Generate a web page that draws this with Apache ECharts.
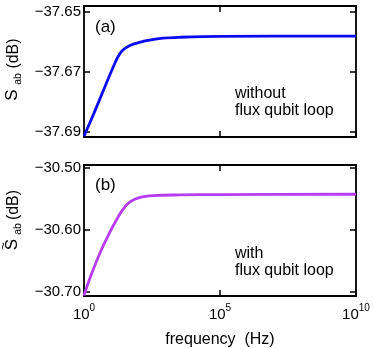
<!DOCTYPE html>
<html>
<head>
<meta charset="utf-8">
<script src="https://cdn.jsdelivr.net/npm/echarts@6/dist/echarts.min.js"></script>
<style>
html,body{margin:0;padding:0;background:#fff;}
#chart{width:374px;height:348px;}
</style>
</head>
<body>
<div id="chart"></div>
<script>
// ---- data ----
const freqA = [1, 2.2, 5.1, 10.5, 14, 18, 24, 32, 45, 65, 100, 200, 800, 3400, 1e5, 1e10];
const valA = [-37.6915, -37.6844, -37.6764, -37.6696, -37.6670, -37.6650, -37.6633, -37.6623,
              -37.6615, -37.6609, -37.6604, -37.6597, -37.6589, -37.6586, -37.6583, -37.6582];
const freqB = [1, 1.66, 3.87, 9.04, 15.9, 27.9, 49.1, 114.5, 353, 3380, 1e5, 1e10];
const valB = [-30.7060, -30.6774, -30.6371, -30.6032, -30.5831, -30.5661, -30.5548, -30.5473,
              -30.5445, -30.5435, -30.5429, -30.5424];
const xTicks = [1, 1e5, 1e10];
const yTicksA = [-37.69, -37.67, -37.65];
const yTicksB = [-30.70, -30.60, -30.50];
const yRangeA = [-37.6918, -37.6482];
const yRangeB = [-30.7065, -30.4952];
const panelLabels = ['(a)', '(b)'];
const noteA = ['without', 'flux qubit loop'];
const noteB = ['with', 'flux qubit loop'];
const xName = 'frequency  (Hz)';

const FONT = '"Liberation Sans", Arial, Helvetica, sans-serif';
const lineStyle = {color: '#000', width: 1.8};
const tickStyle = {color: '#000', width: 1.5};

function xAxis(grid, pos, showLabel) {
  return {
    type: 'log', logBase: 10, gridIndex: grid, position: pos, min: 1, max: 1e10,
    axisLine: {show: true, lineStyle: lineStyle},
    axisTick: {show: true, inside: true, length: 6, lineStyle: tickStyle, customValues: xTicks},
    minorTick: {show: false}, splitLine: {show: false},
    axisLabel: {
      show: showLabel, customValues: xTicks, margin: 7, color: '#000', fontFamily: FONT,
      formatter: v => '{b|10}{sup|' + Math.round(Math.log10(v)) + '}',
      rich: {
        b: {fontSize: 15, lineHeight: 19, fontFamily: FONT, color: '#000', verticalAlign: 'bottom'},
        sup: {fontSize: 10, lineHeight: 11, fontFamily: FONT, color: '#000', verticalAlign: 'top'}
      }
    },
    name: (grid === 1 && pos === 'bottom') ? xName : '',
    nameLocation: 'middle', nameGap: 36,
    nameTextStyle: {fontSize: 16, fontFamily: FONT, color: '#000'}
  };
}
function yAxis(grid, pos, range, ticks, showLabel) {
  return {
    type: 'value', gridIndex: grid, position: pos, min: range[0], max: range[1],
    axisLine: {show: true, lineStyle: lineStyle},
    axisTick: {show: true, inside: true, length: 6, lineStyle: tickStyle, customValues: ticks},
    splitLine: {show: false},
    axisLabel: {
      show: showLabel, customValues: ticks, margin: 3, color: '#000', fontFamily: FONT, fontSize: 15,
      formatter: v => '\u2212' + Math.abs(v).toFixed(2)
    }
  };
}

function rotText(x, y, text, size) {
  return {type: 'text', x: x, y: y, rotation: Math.PI / 2, silent: true,
    style: {text: text, fontSize: size, fontFamily: FONT, fill: '#000', align: 'center', verticalAlign: 'middle'}};
}
function plainText(x, y, text, size) {
  return {type: 'text', x: x, y: y, silent: true,
    style: {text: text, fontSize: size, fontFamily: FONT, fill: '#000', lineHeight: 17, align: 'left', verticalAlign: 'top'}};
}

const chart = echarts.init(document.getElementById('chart'), null, {renderer: 'canvas'});
chart.setOption({
  animation: false,
  backgroundColor: '#fff',
  grid: [
    {left: 84, top: 6, width: 272, height: 131, containLabel: false, outerBoundsMode: 'none'},
    {left: 84, top: 165, width: 272, height: 131, containLabel: false, outerBoundsMode: 'none'}
  ],
  xAxis: [xAxis(0, 'bottom', false), xAxis(0, 'top', false), xAxis(1, 'bottom', true), xAxis(1, 'top', false)],
  yAxis: [yAxis(0, 'left', yRangeA, yTicksA, true), yAxis(0, 'right', yRangeA, yTicksA, false),
          yAxis(1, 'left', yRangeB, yTicksB, true), yAxis(1, 'right', yRangeB, yTicksB, false)],
  series: [
    {type: 'line', xAxisIndex: 0, yAxisIndex: 0, showSymbol: false, smooth: 0.35,
     lineStyle: {color: '#0a0af5', width: 2.8}, data: freqA.map((f, i) => [f, valA[i]])},
    {type: 'line', xAxisIndex: 2, yAxisIndex: 2, showSymbol: false, smooth: 0.35,
     lineStyle: {color: '#b83cf2', width: 2.8}, data: freqB.map((f, i) => [f, valB[i]])}
  ],
  graphic: [
    plainText(95, 19, panelLabels[0], 17),
    plainText(95, 177, panelLabels[1], 17),
    plainText(235, 85, noteA.join('\n'), 16),
    plainText(235, 245, noteB.join('\n'), 16),
    rotText(12, 95, 'S', 17),
    rotText(18.5, 79, 'ab', 10.5),
    rotText(13.5, 53.5, '(dB)', 16),
    rotText(3, 246, '~', 13),
    rotText(12, 244.5, 'S', 17),
    rotText(18.5, 229, 'ab', 10.5),
    rotText(13.5, 205, '(dB)', 16)
  ]
});
</script>
</body>
</html>
